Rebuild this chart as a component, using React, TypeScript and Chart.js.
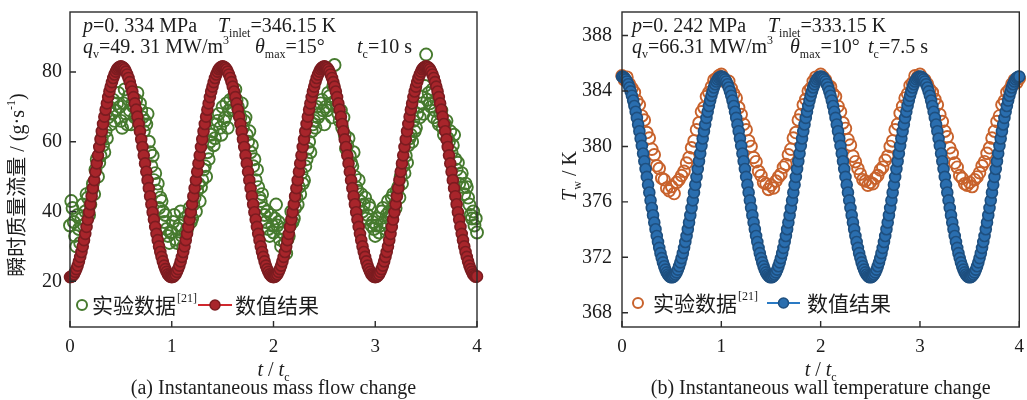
import { useEffect, useRef } from "react";
import { Chart, registerables } from "chart.js";

Chart.register(...registerables);

const SERIF = '"Liberation Serif", "Times New Roman", serif';
const CJK = '"Noto Sans CJK SC", "Noto Sans", sans-serif';
const INK = "#1c1c1c";

// sampling intervals (in t / t_c) of the series below
const STEP_FINE = 0.0125;
const STEP_COARSE = 0.025;

const tTicks = [0, 1, 2, 3, 4];
const flowTicks = [20, 40, 60, 80];
const wallTicks = [368, 372, 376, 380, 384, 388];

// instantaneous mass flow, g/s (sampled every STEP_FINE)
const flowExperiment = [
  36, 43, 41, 37, 33, 30, 39, 35, 31, 38, 42, 36, 40, 45, 44, 39, 42, 46, 48, 45, 52, 55, 50, 54, 56, 61, 59, 57, 63, 61, 67, 70, 65, 68, 72, 66, 69, 71, 74, 70,
  66, 64, 71, 75, 68, 65, 73, 69, 65, 71, 70, 67, 72, 74, 66, 71, 69, 67, 63, 66, 65, 68, 60, 57, 53, 56, 49, 51, 46, 48, 41, 44, 43, 40, 37, 39, 35, 33, 31, 34,
  34, 37, 39, 32, 31, 35, 36, 40, 33, 30, 38, 34, 35, 39, 41, 37, 38, 42, 44, 40, 46, 48, 43, 47, 49, 52, 53, 50, 57, 55, 60, 62, 63, 59, 61, 65, 66, 68, 64, 62,
  70, 66, 67, 71, 64, 69, 72, 70, 69, 73, 75, 72, 70, 68, 67, 71, 64, 66, 67, 62, 60, 63, 57, 59, 53, 55, 49, 52, 47, 44, 43, 45, 41, 39, 37, 40, 35, 33, 39, 36,
  34, 38, 42, 36, 37, 32, 30, 34, 35, 31, 28, 32, 33, 36, 40, 37, 38, 41, 44, 42, 47, 45, 51, 48, 49, 53, 55, 58, 60, 57, 63, 65, 66, 64, 70, 67, 68, 71, 72, 69,
  65, 70, 69, 74, 73, 71, 67, 76, 82, 72, 70, 68, 66, 69, 64, 67, 62, 58, 59, 61, 56, 54, 53, 57, 50, 47, 46, 49, 43, 45, 40, 42, 44, 38, 39, 42, 41, 36, 37, 35,
  33, 36, 38, 34, 36, 40, 41, 37, 35, 39, 43, 40, 39, 44, 45, 42, 41, 46, 47, 44, 50, 48, 53, 51, 56, 54, 59, 61, 62, 60, 66, 63, 64, 68, 70, 67, 73, 71, 68, 76,
  85, 72, 74, 71, 70, 75, 67, 69, 72, 66, 65, 68, 69, 64, 62, 65, 66, 61, 60, 63, 57, 59, 62, 55, 52, 54, 48, 50, 51, 47, 45, 48, 47, 44, 42, 39, 38, 40, 36, 38,
  34,
];

const flowNumeric = [
  21.2, 21.3, 21.6, 22.0, 22.7, 23.5, 24.5, 25.7, 27.0, 28.4, 30.0, 31.8, 33.6, 35.6, 37.7, 39.8, 42.1, 44.4, 46.7, 49.0,
  51.4, 53.8, 56.1, 58.5, 60.7, 63.0, 65.1, 67.2, 69.2, 71.0, 72.8, 74.4, 75.8, 77.1, 78.3, 79.3, 80.1, 80.8, 81.2, 81.5,
  81.6, 81.5, 81.2, 80.8, 80.1, 79.3, 78.3, 77.1, 75.8, 74.4, 72.8, 71.0, 69.2, 67.2, 65.1, 63.0, 60.7, 58.5, 56.1, 53.8,
  51.4, 49.0, 46.7, 44.4, 42.1, 39.8, 37.7, 35.6, 33.6, 31.8, 30.0, 28.4, 27.0, 25.7, 24.5, 23.5, 22.7, 22.0, 21.6, 21.3,
  21.2, 21.3, 21.6, 22.0, 22.7, 23.5, 24.5, 25.7, 27.0, 28.4, 30.0, 31.8, 33.6, 35.6, 37.7, 39.8, 42.1, 44.4, 46.7, 49.0,
  51.4, 53.8, 56.1, 58.5, 60.7, 63.0, 65.1, 67.2, 69.2, 71.0, 72.8, 74.4, 75.8, 77.1, 78.3, 79.3, 80.1, 80.8, 81.2, 81.5,
  81.6, 81.5, 81.2, 80.8, 80.1, 79.3, 78.3, 77.1, 75.8, 74.4, 72.8, 71.0, 69.2, 67.2, 65.1, 63.0, 60.7, 58.5, 56.1, 53.8,
  51.4, 49.0, 46.7, 44.4, 42.1, 39.8, 37.7, 35.6, 33.6, 31.8, 30.0, 28.4, 27.0, 25.7, 24.5, 23.5, 22.7, 22.0, 21.6, 21.3,
  21.2, 21.3, 21.6, 22.0, 22.7, 23.5, 24.5, 25.7, 27.0, 28.4, 30.0, 31.8, 33.6, 35.6, 37.7, 39.8, 42.1, 44.4, 46.7, 49.0,
  51.4, 53.8, 56.1, 58.5, 60.7, 63.0, 65.1, 67.2, 69.2, 71.0, 72.8, 74.4, 75.8, 77.1, 78.3, 79.3, 80.1, 80.8, 81.2, 81.5,
  81.6, 81.5, 81.2, 80.8, 80.1, 79.3, 78.3, 77.1, 75.8, 74.4, 72.8, 71.0, 69.2, 67.2, 65.1, 63.0, 60.7, 58.5, 56.1, 53.8,
  51.4, 49.0, 46.7, 44.4, 42.1, 39.8, 37.7, 35.6, 33.6, 31.8, 30.0, 28.4, 27.0, 25.7, 24.5, 23.5, 22.7, 22.0, 21.6, 21.3,
  21.2, 21.3, 21.6, 22.0, 22.7, 23.5, 24.5, 25.7, 27.0, 28.4, 30.0, 31.8, 33.6, 35.6, 37.7, 39.8, 42.1, 44.4, 46.7, 49.0,
  51.4, 53.8, 56.1, 58.5, 60.7, 63.0, 65.1, 67.2, 69.2, 71.0, 72.8, 74.4, 75.8, 77.1, 78.3, 79.3, 80.1, 80.8, 81.2, 81.5,
  81.6, 81.5, 81.2, 80.8, 80.1, 79.3, 78.3, 77.1, 75.8, 74.4, 72.8, 71.0, 69.2, 67.2, 65.1, 63.0, 60.7, 58.5, 56.1, 53.8,
  51.4, 49.0, 46.7, 44.4, 42.1, 39.8, 37.7, 35.6, 33.6, 31.8, 30.0, 28.4, 27.0, 25.7, 24.5, 23.5, 22.7, 22.0, 21.6, 21.3,
  21.4,
];

// instantaneous wall temperature, K (experiment every STEP_COARSE, simulation every STEP_FINE)
const wallExperiment = [
  385.1, 384.8, 385.0, 384.5, 384.2, 383.9, 383.3, 383.0, 382.2, 381.9, 381.0, 380.6, 379.8, 379.4, 378.6, 378.4, 377.7, 377.6, 377.0, 376.8,
  377.1, 376.6, 377.4, 377.6, 377.9, 378.2, 378.8, 379.2, 379.9, 380.4, 381.2, 381.7, 382.5, 382.8, 383.6, 383.9, 384.3, 384.8, 384.9, 385.1,
  385.2, 384.9, 384.6, 384.7, 384.2, 383.8, 383.5, 382.8, 382.3, 381.6, 381.2, 380.4, 380.0, 379.2, 378.9, 378.2, 377.9, 377.4, 377.3, 376.9,
  377.2, 377.0, 377.5, 377.8, 378.0, 378.5, 378.7, 379.4, 379.8, 380.6, 381.0, 381.9, 382.3, 383.0, 383.4, 384.0, 384.2, 384.7, 385.0, 384.9,
  385.2, 385.0, 384.8, 384.4, 384.3, 383.8, 383.6, 382.9, 382.5, 381.7, 381.3, 380.5, 380.1, 379.3, 378.9, 378.4, 378.0, 377.6, 377.5, 377.2,
  377.4, 377.3, 377.7, 377.9, 378.3, 378.5, 379.0, 379.3, 380.0, 380.4, 381.2, 381.6, 382.4, 382.9, 383.5, 383.8, 384.4, 384.6, 385.1, 385.0,
  385.2, 384.9, 384.8, 384.5, 384.1, 383.9, 383.4, 383.0, 382.3, 381.8, 381.1, 380.7, 379.9, 379.5, 378.8, 378.5, 377.9, 377.7, 377.3, 377.2,
  377.4, 377.1, 377.6, 377.8, 378.1, 378.6, 378.9, 379.5, 379.9, 380.6, 381.1, 381.8, 382.2, 383.0, 383.3, 383.9, 384.1, 384.5, 384.8, 384.6,
  384.9,
];

const wallNumeric = [
  385.04, 385.02, 384.95, 384.84, 384.69, 384.49, 384.25, 383.97, 383.66, 383.31, 382.92, 382.50, 382.06, 381.58, 381.09, 380.57, 380.04, 379.49, 378.93, 378.37,
  377.80, 377.23, 376.67, 376.11, 375.56, 375.03, 374.51, 374.02, 373.54, 373.10, 372.68, 372.30, 371.94, 371.63, 371.35, 371.11, 370.91, 370.76, 370.65, 370.58,
  370.56, 370.58, 370.65, 370.76, 370.91, 371.11, 371.35, 371.63, 371.94, 372.30, 372.68, 373.10, 373.54, 374.02, 374.51, 375.03, 375.56, 376.11, 376.67, 377.23,
  377.80, 378.37, 378.93, 379.49, 380.04, 380.57, 381.09, 381.58, 382.06, 382.50, 382.92, 383.31, 383.66, 383.97, 384.25, 384.49, 384.69, 384.84, 384.95, 385.02,
  385.04, 385.02, 384.95, 384.84, 384.69, 384.49, 384.25, 383.97, 383.66, 383.31, 382.92, 382.50, 382.06, 381.58, 381.09, 380.57, 380.04, 379.49, 378.93, 378.37,
  377.80, 377.23, 376.67, 376.11, 375.56, 375.03, 374.51, 374.02, 373.54, 373.10, 372.68, 372.30, 371.94, 371.63, 371.35, 371.11, 370.91, 370.76, 370.65, 370.58,
  370.56, 370.58, 370.65, 370.76, 370.91, 371.11, 371.35, 371.63, 371.94, 372.30, 372.68, 373.10, 373.54, 374.02, 374.51, 375.03, 375.56, 376.11, 376.67, 377.23,
  377.80, 378.37, 378.93, 379.49, 380.04, 380.57, 381.09, 381.58, 382.06, 382.50, 382.92, 383.31, 383.66, 383.97, 384.25, 384.49, 384.69, 384.84, 384.95, 385.02,
  385.04, 385.02, 384.95, 384.84, 384.69, 384.49, 384.25, 383.97, 383.66, 383.31, 382.92, 382.50, 382.06, 381.58, 381.09, 380.57, 380.04, 379.49, 378.93, 378.37,
  377.80, 377.23, 376.67, 376.11, 375.56, 375.03, 374.51, 374.02, 373.54, 373.10, 372.68, 372.30, 371.94, 371.63, 371.35, 371.11, 370.91, 370.76, 370.65, 370.58,
  370.56, 370.58, 370.65, 370.76, 370.91, 371.11, 371.35, 371.63, 371.94, 372.30, 372.68, 373.10, 373.54, 374.02, 374.51, 375.03, 375.56, 376.11, 376.67, 377.23,
  377.80, 378.37, 378.93, 379.49, 380.04, 380.57, 381.09, 381.58, 382.06, 382.50, 382.92, 383.31, 383.66, 383.97, 384.25, 384.49, 384.69, 384.84, 384.95, 385.02,
  385.04, 385.02, 384.95, 384.84, 384.69, 384.49, 384.25, 383.97, 383.66, 383.31, 382.92, 382.50, 382.06, 381.58, 381.09, 380.57, 380.04, 379.49, 378.93, 378.37,
  377.80, 377.23, 376.67, 376.11, 375.56, 375.03, 374.51, 374.02, 373.54, 373.10, 372.68, 372.30, 371.94, 371.63, 371.35, 371.11, 370.91, 370.76, 370.65, 370.58,
  370.56, 370.58, 370.65, 370.76, 370.91, 371.11, 371.35, 371.63, 371.94, 372.30, 372.68, 373.10, 373.54, 374.02, 374.51, 375.03, 375.56, 376.11, 376.67, 377.23,
  377.80, 378.37, 378.93, 379.49, 380.04, 380.57, 381.09, 381.58, 382.06, 382.50, 382.92, 383.31, 383.66, 383.97, 384.25, 384.49, 384.69, 384.84, 384.95, 385.02,
  385.04,
];

const LEGEND_EXP = "实验数据";
const LEGEND_REF = "[21]";
const LEGEND_NUM = "数值结果";

type Run = { s: string; i?: boolean; sub?: boolean; sup?: boolean; cjk?: boolean };

function fontFor(r: Run, size: number) {
  const sz = r.sub || r.sup ? Math.round(size * 0.58) : size;
  return `${r.i ? "italic " : ""}${sz}px ${r.cjk ? CJK : SERIF}`;
}

function widthOf(ctx: CanvasRenderingContext2D, runs: Run[], size: number) {
  let w = 0;
  for (const r of runs) {
    ctx.font = fontFor(r, size);
    w += ctx.measureText(r.s).width;
  }
  return w;
}

function drawRuns(ctx: CanvasRenderingContext2D, runs: Run[], x: number, y: number, size: number) {
  let cx = x;
  for (const r of runs) {
    ctx.font = fontFor(r, size);
    const dy = r.sub ? size * 0.26 : r.sup ? -size * 0.45 : 0;
    ctx.fillText(r.s, cx, y + dy);
    cx += ctx.measureText(r.s).width;
  }
  return cx;
}

interface Placed {
  x: number;
  y: number;
  runs: Run[];
}

interface PanelSpec {
  yMin: number;
  yMax: number;
  yTicks: number[];
  exp: number[];
  expStep: number;
  num: number[];
  numStep: number;
  expColor: string;
  expRadius: number;
  numBorder: string;
  numFill: string;
  legendLine: string;
  yAxisWidth: number;
  padRight: number;
  yTickPad: number;
  header: Placed[];
  yTitle: Placed;
  legend: { circleX: number; y: number; text1X: number; lineX1: number; lineX2: number; text2X: number };
  caption: string;
}

const xTitleRuns: Run[] = [{ s: "t", i: true }, { s: " / " }, { s: "t", i: true }, { s: "c", sub: true }];

const flowPanel: PanelSpec = {
  yMin: 6.9,
  yMax: 97.2,
  yTicks: flowTicks,
  exp: flowExperiment,
  expStep: STEP_FINE,
  num: flowNumeric,
  numStep: STEP_FINE,
  expColor: "#467a2e",
  expRadius: 6,
  numBorder: "#7b1c20",
  numFill: "#a8252b",
  legendLine: "#d0282e",
  yAxisWidth: 70,
  padRight: 38,
  yTickPad: 8,
  header: [
    { x: 83, y: 32, runs: [{ s: "p", i: true }, { s: "=0. 334 MPa" }] },
    { x: 218, y: 32, runs: [{ s: "T", i: true }, { s: "inlet", sub: true }, { s: "=346.15 K" }] },
    { x: 83, y: 53, runs: [{ s: "q", i: true }, { s: "v", sub: true }, { s: "=49. 31 MW/m" }, { s: "3", sup: true }] },
    { x: 255, y: 53, runs: [{ s: "θ", i: true }, { s: "max", sub: true }, { s: "=15°" }] },
    { x: 357, y: 53, runs: [{ s: "t", i: true }, { s: "c", sub: true }, { s: "=10 s" }] },
  ],
  yTitle: {
    x: 17,
    y: 185,
    runs: [{ s: "瞬时质量流量", cjk: true }, { s: " / (g·s" }, { s: "-1", sup: true }, { s: ")" }],
  },
  legend: { circleX: 82, y: 305, text1X: 92, lineX1: 198, lineX2: 232, text2X: 235 },
  caption: "(a) Instantaneous mass flow change",
};

const wallPanel: PanelSpec = {
  yMin: 366.97,
  yMax: 389.7,
  yTicks: wallTicks,
  exp: wallExperiment,
  expStep: STEP_COARSE,
  num: wallNumeric,
  numStep: STEP_FINE,
  expColor: "#c8622c",
  expRadius: 5.8,
  numBorder: "#1e4f7f",
  numFill: "#2a6eaf",
  legendLine: "#2a7ac4",
  yAxisWidth: 92,
  padRight: 2,
  yTickPad: 10,
  header: [
    { x: 102, y: 32, runs: [{ s: "p", i: true }, { s: "=0. 242 MPa" }] },
    { x: 238, y: 32, runs: [{ s: "T", i: true }, { s: "inlet", sub: true }, { s: "=333.15 K" }] },
    { x: 102, y: 53, runs: [{ s: "q", i: true }, { s: "v", sub: true }, { s: "=66.31 MW/m" }, { s: "3", sup: true }] },
    { x: 260, y: 53, runs: [{ s: "θ", i: true }, { s: "max", sub: true }, { s: "=10°" }] },
    { x: 338, y: 53, runs: [{ s: "t", i: true }, { s: "c", sub: true }, { s: "=7.5 s" }] },
  ],
  yTitle: { x: 39, y: 176, runs: [{ s: "T", i: true }, { s: "w", sub: true }, { s: " / K" }] },
  legend: { circleX: 108, y: 303, text1X: 123, lineX1: 237, lineX2: 270, text2X: 277 },
  caption: "(b) Instantaneous wall temperature change",
};

function buildChart(canvas: HTMLCanvasElement, spec: PanelSpec) {
  const toPts = (arr: number[], step: number) => arr.map((v, i) => ({ x: i * step, y: v }));

  const decor = {
    id: "panelDecor",
    afterDatasetsDraw(chart: any) {
      const { ctx, chartArea: a, scales } = chart;
      ctx.save();
      ctx.strokeStyle = "#2b2b2b";
      ctx.lineWidth = 1.4;
      ctx.beginPath();
      for (const v of tTicks) {
        const px = scales.x.getPixelForValue(v);
        ctx.moveTo(px, a.bottom);
        ctx.lineTo(px, a.bottom - 6);
      }
      for (const v of spec.yTicks) {
        const py = scales.y.getPixelForValue(v);
        ctx.moveTo(a.left, py);
        ctx.lineTo(a.left + 6, py);
      }
      ctx.stroke();
      ctx.strokeRect(a.left, a.top, a.right - a.left, a.bottom - a.top);
      ctx.restore();
    },
    afterDraw(chart: any) {
      const { ctx, chartArea: a } = chart;
      ctx.save();
      ctx.fillStyle = INK;
      ctx.textBaseline = "alphabetic";
      ctx.textAlign = "left";

      // operating-condition annotations
      for (const h of spec.header) drawRuns(ctx, h.runs, h.x, h.y, 20);

      // x title and caption
      const cx = (a.left + a.right) / 2;
      const xw = widthOf(ctx, xTitleRuns, 20);
      drawRuns(ctx, xTitleRuns, cx - xw / 2, 376, 20);
      const capRuns: Run[] = [{ s: spec.caption }];
      const cw = widthOf(ctx, capRuns, 20);
      drawRuns(ctx, capRuns, cx - cw / 2, 394, 20);

      // rotated y title
      ctx.save();
      ctx.translate(spec.yTitle.x, spec.yTitle.y);
      ctx.rotate(-Math.PI / 2);
      const yw = widthOf(ctx, spec.yTitle.runs, 20);
      drawRuns(ctx, spec.yTitle.runs, -yw / 2, 7, 20);
      ctx.restore();

      // legend
      const L = spec.legend;
      ctx.lineWidth = 2;
      ctx.strokeStyle = spec.expColor;
      ctx.beginPath();
      ctx.arc(L.circleX, L.y, 5, 0, Math.PI * 2);
      ctx.stroke();
      ctx.fillStyle = INK;
      const after = drawRuns(ctx, [{ s: LEGEND_EXP, cjk: true }], L.text1X, L.y + 8, 21);
      drawRuns(ctx, [{ s: LEGEND_REF, sup: true }], after + 1, L.y + 6, 21);
      ctx.strokeStyle = spec.legendLine;
      ctx.beginPath();
      ctx.moveTo(L.lineX1, L.y);
      ctx.lineTo(L.lineX2, L.y);
      ctx.stroke();
      ctx.fillStyle = spec.numFill;
      ctx.strokeStyle = spec.numBorder;
      ctx.lineWidth = 1.5;
      ctx.beginPath();
      ctx.arc((L.lineX1 + L.lineX2) / 2, L.y, 5, 0, Math.PI * 2);
      ctx.fill();
      ctx.stroke();
      ctx.fillStyle = INK;
      drawRuns(ctx, [{ s: LEGEND_NUM, cjk: true }], L.text2X, L.y + 8, 21);
      ctx.restore();
    },
  };

  return new Chart(canvas, {
    type: "line",
    data: {
      datasets: [
        {
          data: toPts(spec.num, spec.numStep),
          order: 1,
          borderColor: spec.numBorder,
          borderWidth: 9,
          tension: 0.2,
          pointRadius: 5.5,
          pointBackgroundColor: spec.numFill,
          pointBorderColor: spec.numBorder,
          pointBorderWidth: 1.6,
          clip: false,
        },
        {
          data: toPts(spec.exp, spec.expStep),
          order: 2,
          showLine: false,
          pointRadius: spec.expRadius,
          pointBorderWidth: 1.9,
          pointBorderColor: spec.expColor,
          pointBackgroundColor: "rgba(0,0,0,0)",
          clip: false,
        },
      ],
    },
    options: {
      responsive: false,
      animation: false,
      events: [],
      layout: { padding: { left: 0, right: spec.padRight, top: 12, bottom: 0 } },
      plugins: { legend: { display: false }, tooltip: { enabled: false } },
      scales: {
        x: {
          type: "linear",
          min: 0,
          max: 4,
          grid: { display: false, drawTicks: false },
          border: { display: false },
          afterBuildTicks: (s: any) => {
            s.ticks = tTicks.map((v) => ({ value: v }));
          },
          afterFit: (s: any) => {
            s.height = 73;
            s.paddingLeft = 0;
            s.paddingRight = 0;
          },
          ticks: { font: { family: SERIF, size: 19 }, color: INK, padding: 9, maxRotation: 0 },
        },
        y: {
          type: "linear",
          min: spec.yMin,
          max: spec.yMax,
          grid: { display: false, drawTicks: false },
          border: { display: false },
          afterBuildTicks: (s: any) => {
            s.ticks = spec.yTicks.map((v) => ({ value: v }));
          },
          afterFit: (s: any) => {
            s.width = spec.yAxisWidth;
            s.paddingTop = 0;
            s.paddingBottom = 0;
          },
          ticks: { font: { family: SERIF, size: 20 }, color: INK, padding: spec.yTickPad },
        },
      },
    },
    plugins: [decor],
  } as any);
}

export default function App() {
  const left = useRef<HTMLCanvasElement>(null);
  const right = useRef<HTMLCanvasElement>(null);

  useEffect(() => {
    const c1 = buildChart(left.current!, flowPanel);
    const c2 = buildChart(right.current!, wallPanel);
    return () => {
      c1.destroy();
      c2.destroy();
    };
  }, []);

  return (
    <div
      style={{
        position: "absolute",
        left: 0,
        top: 0,
        width: 1027,
        height: 400,
        background: "#fff",
        overflow: "hidden",
      }}
    >
      <canvas ref={left} width={515} height={400} style={{ position: "absolute", left: 0, top: 0 }} />
      <canvas ref={right} width={497} height={400} style={{ position: "absolute", left: 530, top: 0 }} />
    </div>
  );
}
